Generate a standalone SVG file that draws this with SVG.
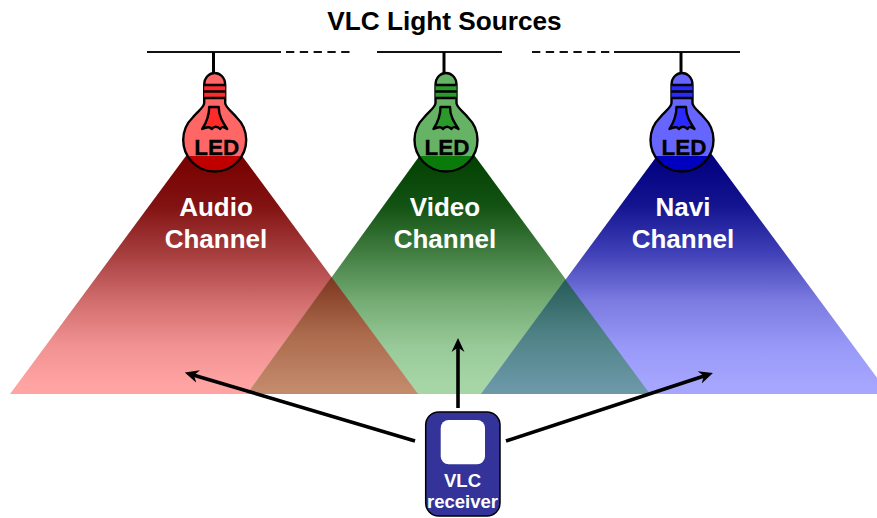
<svg xmlns="http://www.w3.org/2000/svg" width="877" height="518" viewBox="0 0 877 518">
<style>
text{font-family:"Liberation Sans",Arial,sans-serif;font-weight:bold;text-anchor:middle}
.title{font-size:26.2px;fill:#000}
.ch{font-size:26px;fill:#fff}
.led{font-size:22.5px;fill:#000;stroke:#000;stroke-width:.3}
.rx{font-size:18.5px;fill:#fff}
.wire{stroke:#111;stroke-width:2;fill:none}
.dash{stroke-dasharray:8.300 5.500}
.pend{stroke:#000;stroke-width:3;fill:none}
.ol{stroke:#000;stroke-width:2.400;stroke-linejoin:round}
.arrow{stroke:#000;stroke-width:3.600;fill:none;marker-end:url(#head)}
</style>
<defs>
<marker id="head" markerUnits="userSpaceOnUse" markerWidth="16" markerHeight="16" refX="7" refY="8" orient="auto">
<path d="M14,8 L0,1.500 L4.500,8 L0,14.500 Z" fill="#000"/>
</marker>
<linearGradient id="gR" gradientUnits="userSpaceOnUse" x1="0" y1="155" x2="0" y2="385"><stop offset="0" stop-color="#780000"/><stop offset=".22" stop-color="#821212"/><stop offset=".41" stop-color="#a33a3a"/><stop offset=".63" stop-color="#d06c6c"/><stop offset=".83" stop-color="#f29292"/><stop offset="1" stop-color="#ffa3a3"/></linearGradient>
<linearGradient id="gG" gradientUnits="userSpaceOnUse" x1="0" y1="155" x2="0" y2="385"><stop offset="0" stop-color="#024002"/><stop offset=".22" stop-color="#125212"/><stop offset=".41" stop-color="#3e7a3e"/><stop offset=".63" stop-color="#73ab73"/><stop offset=".83" stop-color="#98c998"/><stop offset="1" stop-color="#a6d6a6"/></linearGradient>
<linearGradient id="gB" gradientUnits="userSpaceOnUse" x1="0" y1="155" x2="0" y2="385"><stop offset="0" stop-color="#000080"/><stop offset=".22" stop-color="#141490"/><stop offset=".41" stop-color="#3c3cb4"/><stop offset=".63" stop-color="#7a7ae0"/><stop offset=".83" stop-color="#9898f8"/><stop offset="1" stop-color="#a6a6ff"/></linearGradient>
<linearGradient id="gRG" gradientUnits="userSpaceOnUse" x1="0" y1="277" x2="0" y2="390"><stop offset="0" stop-color="#7e3620"/><stop offset=".5" stop-color="#ab6a4c"/><stop offset="1" stop-color="#c48a6c"/></linearGradient>
<linearGradient id="gGB" gradientUnits="userSpaceOnUse" x1="0" y1="280" x2="0" y2="390"><stop offset="0" stop-color="#265c58"/><stop offset=".5" stop-color="#4f8286"/><stop offset="1" stop-color="#6c98a8"/></linearGradient>
<linearGradient id="bR" x1="0" y1="0" x2="0" y2="1"><stop offset=".838" stop-color="#ff6666"/><stop offset=".838" stop-color="#c00000"/></linearGradient>
<linearGradient id="bG" x1="0" y1="0" x2="0" y2="1"><stop offset=".838" stop-color="#66b366"/><stop offset=".838" stop-color="#0a7a0a"/></linearGradient>
<linearGradient id="bB" x1="0" y1="0" x2="0" y2="1"><stop offset=".838" stop-color="#6666ff"/><stop offset=".838" stop-color="#0000c0"/></linearGradient>
<path id="glass" d="M-10.500,103 V85 C-10.500,77 -5,73 0,73 C5,73 10.500,77 10.500,85 V103 C11,108 17,111 22,117.500 A31.500,31.500 0 1 1 -22,117.500 C-17,111 -11,108 -10.500,103 Z"/>
<path id="bands" d="M-10.500,85 H10.500 V91 H-10.500 Z M-10.500,92 H10.500 V98 H-10.500 Z"/>
<path id="lines" d="M-10.500,85 H10.500 M-10.500,91.500 H10.500 M-10.500,98 H10.500"/>
<path id="fil" d="M-5.500,107 H4 C4,116 8,122 12.500,129 C9,127 7,126 5.500,129 C3,126 -1,126 -3,129 C-5,126 -8,127 -12.500,129 C-8,122 -5.500,116 -5.500,107 Z"/>
</defs>

<g id="beams">
<polygon id="beam-audio" points="214,118 10,394 418,394" fill="url(#gR)"/>
<polygon id="beam-video" points="447,118 247,394 650,394" fill="url(#gG)"/>
<polygon id="beam-navi" points="685,118 481,394 889,394" fill="url(#gB)"/>
<polygon id="overlap-av" points="331.500,277 247,394 418,394" fill="url(#gRG)"/>
<polygon id="overlap-vn" points="565.300,279.600 481,394 650,394" fill="url(#gGB)"/>
</g>

<g id="wires">
<path class="wire" d="M147,52 H281"/>
<path class="wire dash" d="M286,52 H350"/>
<path class="wire" d="M377,52 H502"/>
<path class="wire dash" d="M532,52 H610"/>
<path class="wire" d="M614,52 H740"/>
<path class="pend" d="M213.500,52 V74"/>
<path class="pend" d="M444,52 V74"/>
<path class="pend" d="M681,52 V74"/>
</g>

<g id="bulb-audio" transform="translate(214.700,0)">
<use href="#glass" fill="url(#bR)" class="ol"/>
<use href="#bands" fill="#ff2a2a"/><use href="#lines" class="ol" fill="none"/>
<use href="#fil" fill="#ff2a2a" class="ol"/>
<text class="led" x="2" y="154.500">LED</text>
</g>
<g id="bulb-video" transform="translate(446,0)">
<use href="#glass" fill="url(#bG)" class="ol"/>
<use href="#bands" fill="#2a9a2a"/><use href="#lines" class="ol" fill="none"/>
<use href="#fil" fill="#2a9a2a" class="ol"/>
<text class="led" x="1" y="154.500">LED</text>
</g>
<g id="bulb-navi" transform="translate(682,0)">
<use href="#glass" fill="url(#bB)" class="ol"/>
<use href="#bands" fill="#2a2aff"/><use href="#lines" class="ol" fill="none"/>
<use href="#fil" fill="#2a2aff" class="ol"/>
<text class="led" x="2" y="154.500">LED</text>
</g>

<text class="title" x="444.500" y="30">VLC Light Sources</text>
<g id="label-audio"><text class="ch" x="216" y="216">Audio</text><text class="ch" x="216" y="248">Channel</text></g>
<g id="label-video"><text class="ch" x="445" y="216">Video</text><text class="ch" x="445" y="248">Channel</text></g>
<g id="label-navi"><text class="ch" x="683" y="216">Navi</text><text class="ch" x="683" y="248">Channel</text></g>

<g id="connectors">
<path class="arrow" d="M415,441 L191.500,374.500"/>
<path class="arrow" d="M458,408 V345"/>
<path class="arrow" d="M506,441 L706.300,375.200"/>
</g>

<g id="receiver">
<rect x="425.700" y="412" width="74.300" height="104" rx="13" fill="#333399" stroke="#000" stroke-width="1.500"/>
<rect x="440.700" y="420" width="44.300" height="44.300" rx="8" fill="#fff"/>
<text class="rx" x="462.500" y="487">VLC</text>
<text class="rx" x="462.500" y="508">receiver</text>
</g>
</svg>
